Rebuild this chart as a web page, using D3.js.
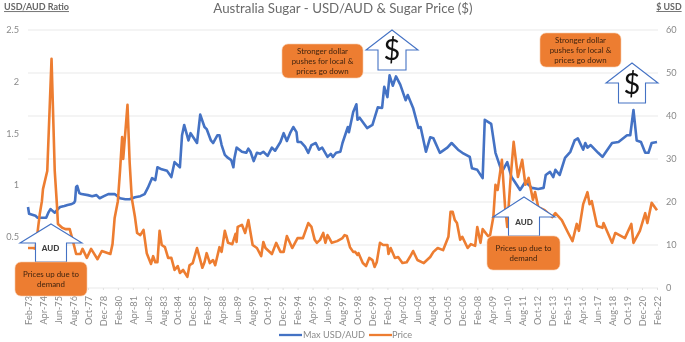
<!DOCTYPE html>
<html>
<head>
<meta charset="utf-8">
<script src="https://cdn.jsdelivr.net/npm/d3@7"></script>
<style>
  html, body { margin: 0; padding: 0; background: #fff; }
  svg { display: block; font-family: Lato, "Open Sans", sans-serif; filter: blur(0.5px); }
</style>
</head>
<body>
<div id="chart"></div>
<script>
// months are counted from Feb-73 (0) to Feb-22 (588)
var tickLabels = ["Feb-73","Apr-74","Jun-75","Aug-76","Oct-77","Dec-78","Feb-80","Apr-81","Jun-82","Aug-83","Oct-84","Dec-85","Feb-87","Apr-88","Jun-89","Aug-90","Oct-91","Dec-92","Feb-94","Apr-95","Jun-96","Aug-97","Oct-98","Dec-99","Feb-01","Apr-02","Jun-03","Aug-04","Oct-05","Dec-06","Feb-08","Apr-09","Jun-10","Aug-11","Oct-12","Dec-13","Feb-15","Apr-16","Jun-17","Aug-18","Oct-19","Dec-20","Feb-22"];
var tickMonths = tickLabels.map(function (d, i) { return i * 14; });
var leftTicks = [0.5, 1, 1.5, 2, 2.5];
var rightTicks = [0, 10, 20, 30, 40, 50, 60];

var audMonths = [0,1,4,7,9,14,17,19,21,22,25,28,30,34,37,41,43,44,45,46,48,50,56,60,64,67,71,75,81,86,91,95,100,105,109,112,116,119,121,125,130,134,137,142,144,146,150,152,158,161,165,167,171,173,177,179,181,184,187,190,192,193,195,200,204,206,208,211,214,217,220,224,228,231,236,239,242,245,248,251,252,255,259,262,265,269,272,275,280,283,285,288,292,294,299,300,304,307,308,310,317,322,327,331,333,336,338,341,344,348,353,355,360,365,367,372,376,379,385,392,396,402,406,413,415,420,425,427,433,437,443,448,452,455,460,465,471,477,482,484,488,491,493,497,502,507,511,514,519,521,523,526,533,537,546,552,560,563,566,569,573,577,580,583,588];
var audValues = [.785,.72,.71,.70,.68,.68,.68,.73,.765,.755,.73,.765,.785,.795,.805,.815,.825,.845,.98,.99,.92,.91,.90,.89,.90,.87,.89,.91,.91,.87,.86,.86,.88,.89,.91,.97,1.065,1.045,1.17,1.15,1.135,1.075,1.22,1.17,1.48,1.58,1.43,1.50,1.405,1.68,1.56,1.54,1.43,1.405,1.48,1.48,1.385,1.29,1.26,1.24,1.17,1.26,1.36,1.32,1.31,1.35,1.32,1.23,1.31,1.30,1.32,1.28,1.36,1.33,1.415,1.50,1.425,1.50,1.56,1.51,1.415,1.415,1.37,1.31,1.385,1.405,1.34,1.36,1.27,1.30,1.27,1.31,1.32,1.405,1.56,1.51,1.705,1.78,1.63,1.65,1.55,1.58,1.75,1.745,1.95,1.85,2.06,1.96,2.05,1.97,1.82,1.87,1.745,1.55,1.56,1.32,1.46,1.45,1.31,1.36,1.405,1.34,1.31,1.27,1.16,1.145,1.065,1.63,1.59,1.31,1.125,1.22,1.075,1.03,.95,1.03,.97,.96,.97,1.095,1.125,1.075,1.145,1.095,1.26,1.32,1.43,1.45,1.34,1.405,1.36,1.385,1.31,1.27,1.405,1.415,1.48,1.48,1.725,1.43,1.415,1.31,1.31,1.405,1.415];

var priceMonths = [0,5,7,11,13,14,18,22,25,27,28,32,35,39,42,45,49,51,55,59,65,69,77,79,81,84,86,88,89,93,95,97,100,102,105,108,111,115,117,119,121,123,125,128,131,134,137,140,142,145,149,151,154,158,163,165,167,170,173,175,179,181,184,187,191,194,195,196,200,203,206,210,214,218,220,222,228,232,236,239,242,247,252,257,262,265,268,270,273,276,278,280,281,284,289,294,296,298,301,304,306,308,309,313,316,319,322,324,326,329,332,336,337,339,343,346,350,354,357,360,364,370,376,379,383,388,393,395,397,399,401,404,406,411,414,418,420,423,425,430,432,435,437,439,443,446,448,451,454,458,462,465,468,472,474,477,483,490,493,499,505,509,513,515,519,523,525,527,532,537,538,546,549,558,564,566,572,577,579,583,588];
var priceValues = [9.3,9.3,9.1,17.2,20.2,23,27.2,53.3,27.2,19.5,14.9,14,13.7,13.7,10.9,7.9,7.9,9.1,7,9.1,6.7,8.6,7.9,10.2,16.3,20.2,27.2,35.1,30,42.6,29.3,20.9,16.5,12.8,12.3,13.5,8.1,5.6,7.4,6,6,13.3,10,9.5,7,7,4.2,5.1,3.5,4.2,2.6,5.3,5.8,9.3,4.7,6,8.1,5.8,6.5,5.3,9.5,8.4,13.3,10.5,10.2,12.6,10.7,14.2,14.7,12.8,15.8,10,9.3,7.4,10.7,9.3,7.9,10.5,8.4,8.4,12.1,9.3,11.6,11.6,15.1,14.2,11.2,10.5,11.2,12.8,10.5,12.3,11.9,10.5,10.9,11.6,12.3,12.1,9.5,8.4,8.4,7.7,8.1,5.8,5.1,7,6.5,4.9,6,10.5,10,10,7.9,9.3,7,7.2,5.8,6,7.2,8.6,6.5,5.8,7.2,8.4,9.3,8.8,11.9,17.7,17.7,15.8,15.1,11.2,11.9,9.3,10.2,9.8,14.2,10.5,13.7,12.1,12.3,16.5,24,22.8,29.8,18.8,14.2,25.1,34,25.8,29.8,24,25.6,20.5,22.3,18.8,18.1,16.5,17.4,15.8,12.8,10.9,14.9,13.3,19.5,22.3,19.5,20.2,14.4,14,15.1,10.5,12.8,11.6,14.9,10.5,13.3,17.4,15.1,19.8,18.1];

var width = 685, height = 342;
var left = 28, right = 657, top0 = 30, bottom = 288;
var BLUE = "#4472C4", ORANGE = "#ED7D31", GREY = "#8a8a8a";

var svg = d3.select("#chart").append("svg").attr("width", width).attr("height", height);

var x = d3.scaleLinear().domain([0, 588]).range([left, right]);
var yL = d3.scaleLinear().domain([0, 2.5]).range([bottom, top0]);
var yR = d3.scaleLinear().domain([0, 60]).range([bottom, top0]);

// gridlines
svg.append("g").selectAll("line").data(rightTicks).enter().append("line")
  .attr("x1", left).attr("x2", right + 1)
  .attr("y1", function (d) { return yR(d); }).attr("y2", function (d) { return yR(d); })
  .attr("stroke", "#e9e9e9").attr("stroke-width", 1.2);

// axes
var axL = svg.append("g").attr("transform", "translate(" + (left - 6) + ",0)")
  .call(d3.axisLeft(yL).tickValues(leftTicks).tickSize(0).tickFormat(d3.format("~g")));
var axR = svg.append("g").attr("transform", "translate(" + (right + 6) + ",0)")
  .call(d3.axisRight(yR).tickValues(rightTicks).tickSize(0));
var axB = svg.append("g").attr("transform", "translate(0," + bottom + ")")
  .call(d3.axisBottom(x).tickValues(tickMonths).tickSize(2).tickFormat(function (d, i) { return tickLabels[i]; }));

axB.selectAll("text")
  .attr("transform", "rotate(-90)")
  .attr("text-anchor", "end")
  .attr("x", -8).attr("y", 0).attr("dy", "0.35em");
axB.selectAll("line").attr("stroke", "#e0e0e0");

[axL, axR, axB].forEach(function (ax) {
  ax.select(".domain").remove();
  ax.selectAll("text").attr("fill", GREY).style("font-size", "9.2px").style("font-family", "Lato");
});

// series
function drawLine(months, values, y, color) {
  var line = d3.line()
    .x(function (d) { return x(d); })
    .y(function (d, i) { return y(values[i]); });
  svg.append("path").datum(months)
    .attr("d", line)
    .attr("fill", "none").attr("stroke", color)
    .attr("stroke-width", 2.6).attr("stroke-linejoin", "round");
}
drawLine(audMonths, audValues, yL, BLUE);
drawLine(priceMonths, priceValues, yR, ORANGE);

// hand drawn callouts sit on top of the lines
function arrow(cx, top, wingY, halfWing, halfShaft, bot) {
  var pts = [[cx, top], [cx + halfWing, wingY], [cx + halfShaft, wingY], [cx + halfShaft, bot],
             [cx - halfShaft, bot], [cx - halfShaft, wingY], [cx - halfWing, wingY]];
  svg.append("polygon")
    .attr("points", pts.join(" "))
    .attr("fill", "#fff").attr("stroke", BLUE).attr("stroke-width", 1.1);
}
function note(x0, y0, w, h, lines) {
  svg.append("rect").attr("x", x0).attr("y", y0).attr("width", w).attr("height", h).attr("rx", 6)
    .attr("fill", ORANGE).attr("stroke", "#f7c9a8").attr("stroke-width", 0.6);
  var gap = 10;
  var start = y0 + h / 2 - (lines.length - 1) * gap / 2;
  lines.forEach(function (t, i) {
    svg.append("text").attr("x", x0 + w / 2).attr("y", start + i * gap).attr("dy", "0.35em")
      .attr("text-anchor", "middle").attr("fill", "#40230f").style("font-size", "7.9px").text(t);
  });
}
function label(cx, cy, t, size, weight, color) {
  svg.append("text").attr("x", cx).attr("y", cy).attr("dy", "0.35em")
    .attr("text-anchor", "middle").attr("fill", color)
    .style("font-size", size + "px").style("font-weight", weight).text(t);
}

arrow(51, 224, 243, 31, 15.5, 262);
label(50.5, 248, "AUD", 8, 900, "#404040");
note(15, 262, 72, 34, ["Prices up due to", "demand"]);

arrow(524, 197, 217, 31, 15.5, 236);
label(524, 222, "AUD", 8, 900, "#404040");
note(487, 236, 73, 34, ["Prices up due to", "demand"]);

arrow(392, 30, 50, 26, 14, 70);
label(392, 50, "$", 29, 400, "#111");
note(282, 44, 81, 34, ["Stronger dollar", "pushes for local &", "prices go down"]);

arrow(632, 63, 83, 26, 13.5, 103);
label(632, 84, "$", 29, 400, "#111");
note(540, 33, 81, 34, ["Stronger dollar", "pushes for local &", "prices go down"]);

// titles
label(343, 8, "Australia Sugar - USD/AUD & Sugar Price ($)", 13.3, 400, "#6a6a6a");
label(36.5, 7, "USD/AUD Ratio", 9, 700, "#666");
label(669, 7, "$ USD", 8.8, 700, "#666");
svg.selectAll("text").filter(function () { return /USD\/AUD Ratio|^\$ USD$/.test(this.textContent); })
  .style("text-decoration", "underline");

// legend
var legendY = 335;
[[279, 302, BLUE, 303, "Max USD/AUD"], [369, 392, ORANGE, 392, "Price"]].forEach(function (d) {
  svg.append("line").attr("x1", d[0]).attr("x2", d[1]).attr("y1", legendY).attr("y2", legendY)
    .attr("stroke", d[2]).attr("stroke-width", 2.3);
  svg.append("text").attr("x", d[3]).attr("y", legendY).attr("dy", "0.35em")
    .attr("fill", GREY).style("font-size", "9.2px").text(d[4]);
});
</script>
</body>
</html>
